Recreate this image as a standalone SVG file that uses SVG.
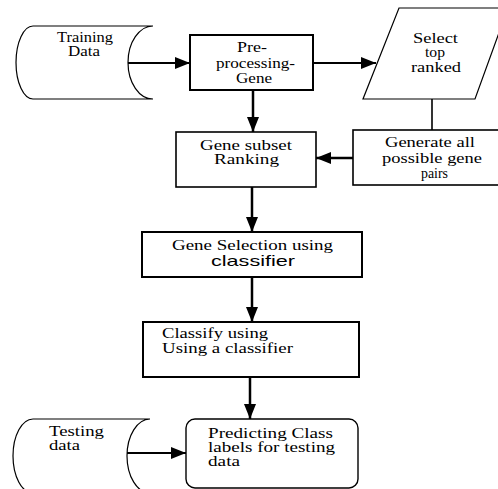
<svg xmlns="http://www.w3.org/2000/svg" width="498" height="489" viewBox="0 0 498 489">
<defs>
<style>
.t{font-family:"Liberation Serif","Times New Roman",serif;font-size:14px;fill:#000}
.s{font-family:"Liberation Sans",Arial,sans-serif;font-size:15px;fill:#000}
.thin{fill:#fff;stroke:#000;stroke-width:1.2}
.box{fill:#fff;stroke:#000;stroke-width:2}
.c{stroke:#000;stroke-width:2.5;fill:none}
.c2{stroke:#000;stroke-width:2;fill:none}
</style>
<marker id="ah" markerUnits="userSpaceOnUse" markerWidth="16" markerHeight="12" refX="15" refY="6" orient="auto">
<path d="M0,0 L15,6 L0,12 Z" fill="#000"/>
</marker>
</defs>
<rect width="498" height="489" fill="#fff"/>

<g id="training-data">
<path class="thin" d="M33,26 H153 A25 36.5 0 0 0 153,99 H33 A17 36.5 0 0 1 33,26 Z"/>
<text class="t" font-size="11.5" x="57" y="42" textLength="56" lengthAdjust="spacingAndGlyphs">Training</text>
<text class="t" font-size="11.5" x="68" y="55.5" textLength="32" lengthAdjust="spacingAndGlyphs">Data</text>
</g>

<g id="preprocessing">
<rect class="box" x="190" y="35" width="123" height="55"/>
<text class="t" x="237" y="52" textLength="30" lengthAdjust="spacingAndGlyphs">Pre-</text>
<text class="t" x="216" y="68" textLength="79" lengthAdjust="spacingAndGlyphs">processing-</text>
<text class="t" x="236" y="83" textLength="36" lengthAdjust="spacingAndGlyphs">Gene</text>
</g>

<g id="select-top">
<polygon class="thin" points="399,8 508,8 475,99 363,99"/>
<text class="t" font-size="12.5" x="413" y="43" textLength="45" lengthAdjust="spacingAndGlyphs">Select</text>
<text class="t" font-size="12.5" x="425" y="57" textLength="20" lengthAdjust="spacingAndGlyphs">top</text>
<text class="t" font-size="12.5" x="411" y="72" textLength="50" lengthAdjust="spacingAndGlyphs">ranked</text>
</g>

<g id="generate-pairs">
<rect x="353" y="130" width="150" height="55" fill="#fff" stroke="#000" stroke-width="1.6"/>
<text class="t" x="385" y="147" textLength="90" lengthAdjust="spacingAndGlyphs">Generate all</text>
<text class="t" x="382" y="163" textLength="100" lengthAdjust="spacingAndGlyphs">possible gene</text>
<text class="t" x="421" y="178" textLength="27" lengthAdjust="spacingAndGlyphs">pairs</text>
</g>

<g id="gene-subset">
<rect x="176" y="132" width="140" height="55" fill="#fff" stroke="#000" stroke-width="1.6"/>
<text class="t" x="200" y="150" textLength="92" lengthAdjust="spacingAndGlyphs">Gene subset</text>
<text class="t" x="214" y="164" textLength="65" lengthAdjust="spacingAndGlyphs">Ranking</text>
</g>

<g id="gene-selection">
<rect class="box" x="142" y="232" width="220" height="45"/>
<text class="t" x="172" y="250" textLength="161" lengthAdjust="spacingAndGlyphs">Gene Selection using</text>
<text class="s" x="211" y="266" textLength="84" lengthAdjust="spacingAndGlyphs">classifier</text>
</g>

<g id="classify">
<rect class="box" x="143" y="322" width="216" height="55"/>
<text class="t" x="162" y="338" textLength="106" lengthAdjust="spacingAndGlyphs">Classify using</text>
<text class="t" x="162" y="353" textLength="131" lengthAdjust="spacingAndGlyphs">Using a classifier</text>
</g>

<g id="testing-data">
<path class="thin" d="M33,419 H150 A23 37 0 0 0 150,493 H33 A20 37 0 0 1 33,419 Z"/>
<text class="t" font-size="12" x="49" y="436" textLength="55" lengthAdjust="spacingAndGlyphs">Testing</text>
<text class="t" font-size="12" x="49" y="450" textLength="31" lengthAdjust="spacingAndGlyphs">data</text>
</g>

<g id="predicting">
<rect x="186" y="419" width="172" height="69" rx="9" fill="#fff" stroke="#000" stroke-width="1.4"/>
<text class="t" x="208" y="438" textLength="125" lengthAdjust="spacingAndGlyphs">Predicting Class</text>
<text class="t" x="208" y="452" textLength="127" lengthAdjust="spacingAndGlyphs">labels for testing</text>
<text class="t" x="208" y="466" textLength="32" lengthAdjust="spacingAndGlyphs">data</text>
</g>

<g id="connectors">
<line class="c2" x1="128" y1="63" x2="190" y2="63" marker-end="url(#ah)"/>
<line class="c2" x1="313" y1="63" x2="376" y2="63" marker-end="url(#ah)"/>
<line x1="432" y1="99" x2="432" y2="130" stroke="#000" stroke-width="1.6"/>
<line class="c" x1="353" y1="158" x2="316" y2="158" marker-end="url(#ah)"/>
<line class="c" x1="253" y1="90" x2="253" y2="132" marker-end="url(#ah)"/>
<line class="c" x1="252" y1="187" x2="252" y2="232" marker-end="url(#ah)"/>
<line class="c" x1="252" y1="277" x2="252" y2="322" marker-end="url(#ah)"/>
<line class="c" x1="250" y1="377" x2="250" y2="419" marker-end="url(#ah)"/>
<line class="c2" x1="127" y1="453" x2="186" y2="453" marker-end="url(#ah)"/>
</g>
</svg>
